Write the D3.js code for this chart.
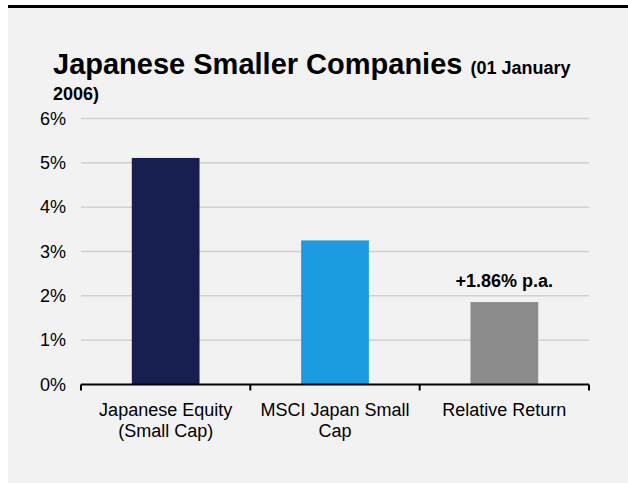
<!DOCTYPE html>
<html>
<head>
<meta charset="utf-8">
<script src="https://cdn.jsdelivr.net/npm/d3@7"></script>
<style>
  html, body { margin: 0; padding: 0; background: #ffffff; }
  svg { display: block; font-family: "Liberation Sans", Arial, sans-serif; }
</style>
</head>
<body>
<svg id="chart" width="628" height="483"></svg>
<script>
// Annualised returns since 01 January 2006 (% p.a.)
const categories = [["Japanese Equity", "(Small Cap)"], ["MSCI Japan Small", "Cap"], ["Relative Return"]];
const values = [5.11, 3.25, 1.86];
const colors = ["#161f50", "#1a9be2", "#8c8c8c"];
const yTicks = [0, 1, 2, 3, 4, 5, 6];
const annotation = "+1.86% p.a.";

const svg = d3.select("#chart");

// panel background and top rule
svg.append("rect").attr("x", 8).attr("y", 8).attr("width", 620).attr("height", 475).attr("fill", "#f2f2f2");
svg.append("rect").attr("x", 8).attr("y", 5).attr("width", 620).attr("height", 3).attr("fill", "#000");

// title
const title = svg.append("text").attr("x", 53).attr("y", 74).attr("fill", "#000").attr("font-weight", "bold");
title.append("tspan").attr("font-size", 29).text("Japanese Smaller Companies ");
title.append("tspan").attr("font-size", 18).text("(01 January");
svg.append("text").attr("x", 53).attr("y", 100).attr("font-size", 18).attr("font-weight", "bold").text("2006)");

const plotLeft = 81, plotRight = 589, plotTop = 118.5, plotBottom = 384.5;
const x = d3.scaleBand().domain(d3.range(values.length)).range([plotLeft, plotRight]).paddingInner(0.6).paddingOuter(0.3);
const xb = d3.scaleBand().domain(d3.range(values.length)).range([plotLeft, plotRight]);
const y = d3.scaleLinear().domain([0, 6]).range([plotBottom, plotTop]);

// gridlines
svg.append("g").selectAll("line").data(yTicks.filter(d => d > 0)).join("line")
  .attr("x1", plotLeft).attr("x2", plotRight)
  .attr("y1", d => y(d)).attr("y2", d => y(d))
  .attr("stroke", "#d0d0d0").attr("stroke-width", 1.5);

// y axis labels
const yAxis = svg.append("g").attr("transform", `translate(${plotLeft},0)`)
  .call(d3.axisLeft(y).tickValues(yTicks).tickFormat(d => d + "%").tickSize(0).tickPadding(15));
yAxis.select(".domain").remove();
yAxis.selectAll("text").attr("font-size", 18).attr("fill", "#000").attr("font-family", "Liberation Sans, Arial, sans-serif");

// bars
svg.append("g").selectAll("rect").data(values).join("rect")
  .attr("x", (d, i) => x(i)).attr("width", x.bandwidth())
  .attr("y", d => y(d)).attr("height", d => y(0) - y(d))
  .attr("fill", (d, i) => colors[i]);

// x axis
const xAxis = svg.append("g").attr("transform", `translate(0,${plotBottom})`);
xAxis.append("line").attr("x1", plotLeft).attr("x2", plotRight).attr("stroke", "#000").attr("stroke-width", 2);
const tickPos = d3.range(values.length + 1).map(i => i < values.length ? xb(i) : plotRight);
xAxis.selectAll("line.tick").data(tickPos).join("line").attr("class", "tick")
  .attr("x1", d => d).attr("x2", d => d).attr("y1", 0).attr("y2", 6)
  .attr("stroke", "#000").attr("stroke-width", 2);

const labels = svg.append("g").selectAll("text").data(categories).join("text")
  .attr("text-anchor", "middle").attr("font-size", 18).attr("fill", "#000")
  .attr("transform", (d, i) => `translate(${xb(i) + xb.bandwidth() / 2},416)`);
labels.selectAll("tspan").data(d => d).join("tspan")
  .attr("x", 0).attr("dy", (d, i) => i === 0 ? 0 : 21).text(d => d);

// value annotation on the relative return bar
svg.append("text").attr("x", x(2) + x.bandwidth() / 2).attr("y", 287)
  .attr("text-anchor", "middle").attr("font-size", 18).attr("font-weight", "bold").text(annotation);
</script>
</body>
</html>
